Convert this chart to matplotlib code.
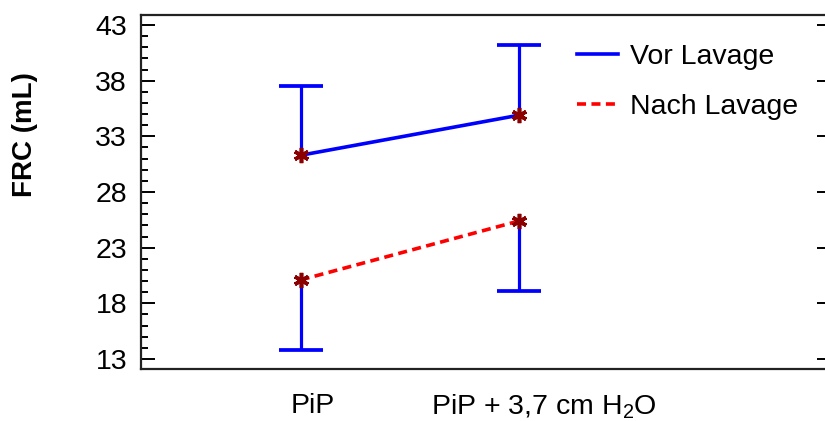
import matplotlib
matplotlib.use('Agg')
import matplotlib.pyplot as plt
from matplotlib.ticker import MultipleLocator
from matplotlib.transforms import ScaledTranslation

plt.rcParams['font.family'] = ['Liberation Sans', 'DejaVu Sans']
plt.rcParams['mathtext.default'] = 'regular'

# data
categories = ['PiP', 'PiP + 3,7 cm H$_2$O']
x_pos = [1, 2]
vor_mean = [31.3, 34.9]
vor_err_up = [6.2, 6.3]
nach_mean = [20.1, 25.4]
nach_err_down = [6.3, 6.3]
y_ticks = [13, 18, 23, 28, 33, 38, 43]

fig = plt.figure(figsize=(8.25, 4.21), dpi=100)
W, H = 825, 421
ax = fig.add_axes([141 / W, (H - 369) / H, (827 - 141) / W, (369 - 15) / H])

blue = '#0000ff'
red = '#ff0000'
dark = '#8b0000'

# connecting lines
ax.plot(x_pos, vor_mean, color=blue, lw=2.6, label='Vor Lavage', zorder=3)
ax.plot(x_pos, nach_mean, color=red, lw=2.6, dashes=(2.5, 1.5),
        label='Nach Lavage', zorder=3)

# one-sided error bars (blue for both series)
eb1 = ax.errorbar(x_pos, vor_mean, yerr=[[0, 0], vor_err_up], fmt='none',
                  ecolor=blue, elinewidth=2.3, capsize=15.5, capthick=2.7,
                  zorder=2)
eb1[1][0].set_visible(False)
eb2 = ax.errorbar(x_pos, nach_mean, yerr=[nach_err_down, [0, 0]], fmt='none',
                  ecolor=blue, elinewidth=2.3, capsize=15.5, capthick=2.7,
                  zorder=2)
eb2[1][1].set_visible(False)

# markers
for means in (vor_mean, nach_mean):
    ax.plot(x_pos, means, ls='none', marker=(6, 2, 0), ms=11, mew=2.6,
            color=dark, zorder=4)

ax.set_xlim(0.269, 3.41)
ax.set_ylim(12.1, 43.9)

ax.set_yticks(y_ticks)
ax.yaxis.set_minor_locator(MultipleLocator(1))
ax.tick_params(axis='y', which='major', direction='in', length=10, width=1.4,
               labelsize=20.5, pad=10, right=False)
ax.tick_params(axis='y', which='minor', direction='in', length=5, width=1.4,
               right=False)

ax.set_xticks(x_pos)
ax.set_xticklabels(categories)
ax.tick_params(axis='x', length=0, labelsize=20.5, pad=17)
offsets = [12, 25]
for lab, off in zip(ax.get_xticklabels(), offsets):
    lab.set_transform(lab.get_transform() +
                      ScaledTranslation(off / 100, 0, fig.dpi_scale_trans))

ax.set_ylabel('FRC (mL)', fontsize=20, fontweight='bold')
ax.yaxis.set_label_coords(-103 / 686, (369 - 135) / 354)

for side in ('left', 'top', 'bottom'):
    ax.spines[side].set_linewidth(1.6)
    ax.spines[side].set_color('#222222')
ax.spines['right'].set_visible(False)

# short major ticks on the right side
ax2 = ax.twinx()
ax2.set_ylim(ax.get_ylim())
ax2.set_yticks(y_ticks)
ax2.tick_params(axis='y', direction='in', length=7, width=1.4, labelright=False)
for s in ax2.spines.values():
    s.set_visible(False)

leg = ax.legend(loc='upper left', bbox_to_anchor=(577 / W, 1 - 44 / H),
                bbox_transform=fig.transFigure, frameon=False, fontsize=20.5,
                handlelength=1.45, handletextpad=0.4, labelspacing=0.85,
                borderpad=0, borderaxespad=0)

fig.savefig('out.png', dpi=100)
